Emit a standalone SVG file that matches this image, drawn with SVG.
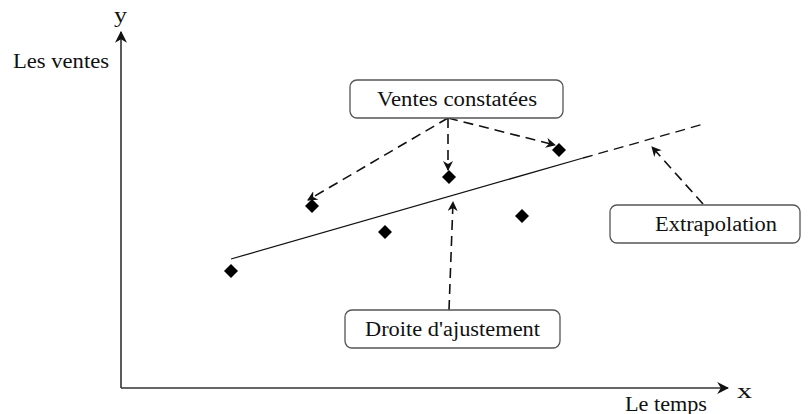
<svg xmlns="http://www.w3.org/2000/svg" width="811" height="414" viewBox="0 0 811 414">
  <style>
    text { font-family: "Liberation Serif", "Times New Roman", serif; fill: #111; font-size: 20px; }
    .box { fill: #fff; stroke: #555; stroke-width: 1.3; }
    .axis { stroke: #333; stroke-width: 1.6; fill: none; }
    .dash { stroke: #111; stroke-width: 1.6; fill: none; stroke-dasharray: 10 6; }
    .pt { fill: #000; }
  </style>
  <defs>
    <marker id="ah" viewBox="0 0 10 10" refX="9" refY="5" markerWidth="10" markerHeight="10" markerUnits="userSpaceOnUse" orient="auto">
      <path d="M0,0 L10,5 L0,10 L3,5 Z" fill="#111"/>
    </marker>
    <marker id="axh" viewBox="0 0 10 10" refX="9" refY="5" markerWidth="12" markerHeight="12" markerUnits="userSpaceOnUse" orient="auto">
      <path d="M0,0 L10,5 L0,10 L3,5 Z" fill="#111"/>
    </marker>
    <path id="dm" d="M0,-7 L7,0 L0,7 L-7,0 Z"/>
  </defs>

  <!-- axes -->
  <g id="axes">
    <line class="axis" x1="121" y1="388" x2="121" y2="32" marker-end="url(#axh)"/>
    <line class="axis" x1="121" y1="388" x2="728" y2="388" marker-end="url(#axh)"/>
    <text x="114" y="22" font-size="22" textLength="13" lengthAdjust="spacingAndGlyphs">y</text>
    <text x="13" y="68" textLength="96" lengthAdjust="spacingAndGlyphs">Les ventes</text>
    <text x="737" y="398" font-size="22" textLength="15" lengthAdjust="spacingAndGlyphs">x</text>
    <text x="625" y="411" textLength="82" lengthAdjust="spacingAndGlyphs">Le temps</text>
  </g>

  <!-- fitted line and its extrapolation -->
  <g id="fit">
    <line x1="231" y1="259" x2="583" y2="158" stroke="#111" stroke-width="1.3"/>
    <line x1="583" y1="158" x2="704" y2="124" stroke="#111" stroke-width="1.3" stroke-dasharray="10 6"/>
  </g>

  <!-- observed points -->
  <g id="points" class="pt">
    <use href="#dm" x="231" y="271"/>
    <use href="#dm" x="312" y="206"/>
    <use href="#dm" x="385" y="232"/>
    <use href="#dm" x="449" y="177"/>
    <use href="#dm" x="522" y="216"/>
    <use href="#dm" x="559" y="150"/>
  </g>

  <!-- connectors -->
  <g id="connectors">
    <line class="dash" x1="448" y1="118" x2="308" y2="200" marker-end="url(#ah)"/>
    <line class="dash" x1="448" y1="118" x2="448" y2="170" marker-end="url(#ah)"/>
    <line class="dash" x1="448" y1="118" x2="555" y2="145" marker-end="url(#ah)"/>
    <line class="dash" x1="449" y1="310" x2="453" y2="202" marker-end="url(#ah)"/>
    <line class="dash" x1="703" y1="204" x2="652" y2="147" marker-end="url(#ah)"/>
  </g>

  <g id="ventes-constatees">
    <rect class="box" x="350" y="80" width="213" height="38" rx="7"/>
    <text x="377" y="106" textLength="160" lengthAdjust="spacingAndGlyphs">Ventes constatées</text>
  </g>

  <g id="droite-ajustement">
    <rect class="box" x="345" y="310" width="215" height="38" rx="7"/>
    <text x="365" y="336" textLength="175" lengthAdjust="spacingAndGlyphs">Droite d'ajustement</text>
  </g>

  <g id="extrapolation">
    <rect class="box" x="610" y="205" width="190" height="38" rx="7"/>
    <text x="655" y="231" textLength="122" lengthAdjust="spacingAndGlyphs">Extrapolation</text>
  </g>
</svg>
